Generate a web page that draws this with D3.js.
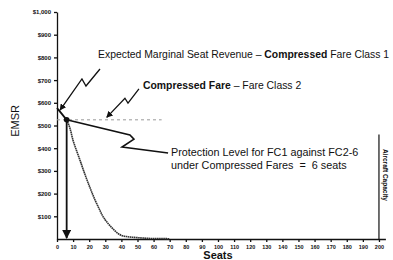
<!DOCTYPE html>
<html>
<head>
<meta charset="utf-8">
<script src="https://cdn.jsdelivr.net/npm/d3@7"></script>
<style>
  body { margin: 0; background: #fff; }
  svg { display: block; font-family: "Liberation Sans", Arial, sans-serif; }
  .lbl { white-space: pre; }
</style>
</head>
<body>
<div id="chart"></div>
<script>
// EMSR curve for fare class 1 (seats protected vs expected marginal revenue)
const seats = [0, 3, 6, 8, 10, 12, 14, 16, 18, 20, 22, 24, 26, 28, 30, 32, 34, 36, 38, 40, 44, 48, 52, 56, 60, 65, 70]
const emsr = [577, 551, 525, 489, 434, 392, 353, 312, 272, 235, 199, 166, 136, 106, 84, 66, 50, 36, 24, 16, 10, 7, 5, 3, 2, 2, 1]

// compressed fare for class 2 (flat line)
const fc2Fare = 525
const fc2Seats = [0, 65]

const protectionLevel = 6
const capacity = 200
const capacityTop = 460

const xTicks = d3.range(0, 201, 10)
const yTicks = d3.range(100, 1001, 100)

// annotation leaders, in data units [seats, $]
const arrow1 = [[26.7, 749], [18, 674], [15.5, 705], [1.9, 568]]
const arrow2 = [[50.9, 661], [44.1, 599], [42.2, 620], [30.9, 536]]
const leader3 = [[6, 525], [45.3, 458], [47.8, 440], [40.4, 405], [69, 379]]

const width = 393, height = 260

const svg = d3.select("#chart")
    .append("svg")
        .attr("width", width)
        .attr("height", height)

const defs = svg.append("defs")
defs.append("marker")
    .attr("id", "head")
    .attr("viewBox", "0 0 10 10")
    .attr("refX", 9)
    .attr("refY", 5)
    .attr("markerWidth", 5)
    .attr("markerHeight", 5)
    .attr("orient", "auto")
  .append("path")
    .attr("d", "M0,0 L10,5 L0,10 z")
    .attr("fill", "#111")

const x = d3.scaleLinear()
    .domain([0, 204])
    .range([57, 385.4])

const y = d3.scaleLinear()
    .domain([0, 1000])
    .range([239, 12])

// axes
const yAxis = svg.append("g")
    .attr("transform", `translate(${x(0)},0)`)
    .call(d3.axisLeft(y)
        .tickValues(yTicks)
        .tickSize(3)
        .tickSizeOuter(0)
        .tickFormat(d => "$" + d3.format(",")(d)))
yAxis.selectAll("text")
    .style("font-size", "6px")
    .style("font-weight", "bold")
    .attr("fill", "#111")
yAxis.selectAll("line, path").attr("stroke", "#111").attr("stroke-width", 1.3)

const xAxis = svg.append("g")
    .attr("transform", `translate(0,${y(0)})`)
    .call(d3.axisBottom(x)
        .tickValues(xTicks)
        .tickSize(3)
        .tickSizeOuter(0))
xAxis.selectAll("text")
    .style("font-size", "5.5px")
    .style("font-weight", "bold")
    .attr("fill", "#111")
xAxis.selectAll("line, path").attr("stroke", "#111").attr("stroke-width", 1.3)

// axis titles
svg.append("text")
    .attr("transform", `translate(19,${y(520)}) rotate(-90)`)
    .attr("text-anchor", "middle")
    .style("font-size", "11px")
    .attr("fill", "#111")
    .text("EMSR")

svg.append("text")
    .attr("x", x(100))
    .attr("y", 259)
    .attr("text-anchor", "middle")
    .style("font-size", "11px")
    .style("font-weight", "bold")
    .attr("fill", "#111")
    .text("Seats")

// compressed fare class 2 (dashed)
svg.append("line")
    .attr("x1", x(fc2Seats[0]))
    .attr("x2", x(fc2Seats[1]))
    .attr("y1", y(fc2Fare))
    .attr("y2", y(fc2Fare))
    .attr("stroke", "#999")
    .attr("stroke-width", 1)
    .attr("stroke-dasharray", "3,3")

// EMSR curve: solid head then stippled tail
const line = d3.line()
    .x(d => x(d[0]))
    .y(d => y(d[1]))
    .curve(d3.curveMonotoneX)

const pts = seats.map((s, i) => [s, emsr[i]])
svg.append("path")
    .datum(pts.filter(d => d[0] <= protectionLevel))
    .attr("d", line)
    .attr("fill", "none")
    .attr("stroke", "#111")
    .attr("stroke-width", 1.8)

svg.append("path")
    .datum(pts.filter(d => d[0] >= protectionLevel))
    .attr("d", line)
    .attr("fill", "none")
    .attr("stroke", "#333")
    .attr("stroke-width", 1.6)
    .attr("stroke-dasharray", "1.6,0.5")

// protection level arrow
svg.append("line")
    .attr("x1", x(protectionLevel))
    .attr("x2", x(protectionLevel))
    .attr("y1", y(fc2Fare))
    .attr("y2", y(0) - 1)
    .attr("stroke", "#111")
    .attr("stroke-width", 1.8)
    .attr("marker-end", "url(#head)")

svg.append("circle")
    .attr("cx", x(protectionLevel))
    .attr("cy", y(fc2Fare))
    .attr("r", 2.8)
    .attr("fill", "#111")

// aircraft capacity
svg.append("line")
    .attr("x1", x(capacity))
    .attr("x2", x(capacity))
    .attr("y1", y(capacityTop))
    .attr("y2", y(0))
    .attr("stroke", "#111")
    .attr("stroke-width", 1.2)

svg.append("text")
    .attr("transform", `translate(${x(capacity) + 4},${y(282)}) rotate(90)`)
    .attr("text-anchor", "middle")
    .style("font-size", "6.5px")
    .style("font-weight", "bold")
    .attr("fill", "#111")
    .text("Aircraft Capacity")

// leaders
const leaderLine = d3.line().x(d => x(d[0])).y(d => y(d[1]))
svg.append("path")
    .datum(arrow1)
    .attr("d", leaderLine)
    .attr("fill", "none")
    .attr("stroke", "#111")
    .attr("stroke-width", 1.3)
    .attr("marker-end", "url(#head)")
svg.append("path")
    .datum(arrow2)
    .attr("d", leaderLine)
    .attr("fill", "none")
    .attr("stroke", "#111")
    .attr("stroke-width", 1.3)
    .attr("marker-end", "url(#head)")
svg.append("path")
    .datum(leader3)
    .attr("d", leaderLine)
    .attr("fill", "none")
    .attr("stroke", "#111")
    .attr("stroke-width", 1.6)

// labels
const t1 = svg.append("text")
    .attr("class", "lbl")
    .attr("x", 98)
    .attr("y", 58)
    .style("font-size", "10.4px")
    .attr("fill", "#111")
t1.append("tspan").text("Expected Marginal Seat Revenue \u2013 ")
t1.append("tspan").style("font-weight", "bold").text("Compressed")
t1.append("tspan").text(" Fare Class 1")

const t2 = svg.append("text")
    .attr("class", "lbl")
    .attr("x", 143)
    .attr("y", 89)
    .style("font-size", "10.4px")
    .attr("fill", "#111")
t2.append("tspan").style("font-weight", "bold").text("Compressed Fare")
t2.append("tspan").text(" \u2013 Fare Class 2")

const t3 = svg.append("text")
    .attr("class", "lbl")
    .attr("x", 171)
    .attr("y", 156)
    .style("font-size", "10.8px")
    .attr("fill", "#111")
t3.append("tspan").text("Protection Level for FC1 against FC2-6")
t3.append("tspan").attr("x", 171).attr("dy", 12.5).text("under Compressed Fares  =  6 seats")
</script>
</body>
</html>
